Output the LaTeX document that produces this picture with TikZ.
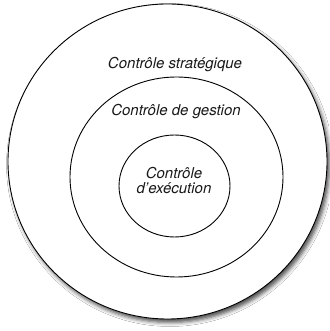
\documentclass[tikz,border=0pt]{standalone}
\usepackage{fontspec}
\setmainfont{TeX Gyre Heros}
\usetikzlibrary{shadows.blur}
\tikzset{
  ring/.style={draw=black, line width=0.9pt},
  lbl/.style={font=\fontsize{15}{15}\selectfont\itshape, text=black!90, inner sep=0pt, align=center}
}
\begin{document}
\begin{tikzpicture}[x=1pt,y=1pt]
\useasboundingbox[fill=white] (0,0) rectangle (329,331);
\fill[white, blur shadow={shadow xshift=2.5pt, shadow yshift=-3.5pt, shadow blur radius=4pt, shadow opacity=70}] (167.5,169.5) ellipse (159.5 and 157.5);
\draw[ring] (167.5,169.5) ellipse (159.5 and 157.5);
\draw[ring] (176.5,154) ellipse (106.5 and 100);
\draw[ring] (174.5,145) ellipse (55.5 and 51);
\node[lbl] (strat) at (175,266) {Contrôle stratégique};
\node[lbl] (gest) at (176,219) {Contrôle de gestion};
\node[lbl] (exec) at (174,150.5) {Contrôle\\d'exécution};
\end{tikzpicture}
\end{document}
